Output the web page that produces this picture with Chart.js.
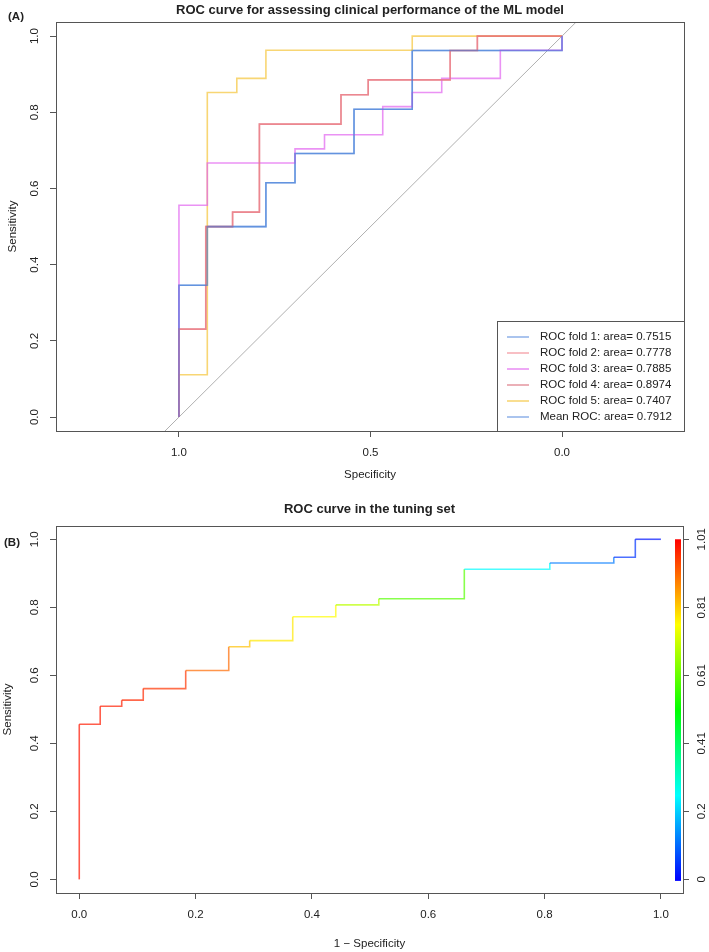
<!DOCTYPE html>
<html>
<head>
<meta charset="utf-8">
<script src="https://cdn.jsdelivr.net/npm/chart.js@4.4.1/dist/chart.umd.min.js"></script>
<style>
  html, body { margin: 0; padding: 0; background: #fff; }
  #wrapA { position: absolute; left: 0; top: 0; width: 709px; height: 484px; }
  #wrapB { position: absolute; left: 0; top: 484px; width: 709px; height: 468px; }
</style>
</head>
<body>
<div id="wrapA"><canvas id="rocA" width="709" height="484"></canvas></div>
<div id="wrapB"><canvas id="rocB" width="709" height="468"></canvas></div>
<script>
// ---- panel A: cross-validation folds (specificity, sensitivity) ----
const fold1Spec = [1, 1, 0.926, 0.773, 0.697, 0.543, 0.391, 0];
const fold1Sens = [0, 0.346, 0.5, 0.615, 0.692, 0.808, 0.962, 1];
const fold2Spec = [1, 1, 0.93, 0.86, 0.79, 0.577, 0.506, 0.292, 0.221, 0];
const fold2Sens = [0, 0.231, 0.5, 0.538, 0.769, 0.846, 0.885, 0.962, 1, 1];
const fold3Spec = [1, 1, 0.926, 0.697, 0.62, 0.468, 0.391, 0.314, 0.161, 0];
const fold3Sens = [0, 0.556, 0.667, 0.704, 0.741, 0.815, 0.852, 0.889, 0.963, 1];
const fold4Spec = [1, 1, 0.93, 0.86, 0.79, 0.577, 0.506, 0.292, 0.221, 0];
const fold4Sens = [0, 0.231, 0.5, 0.538, 0.769, 0.846, 0.885, 0.962, 1, 1];
const fold5Spec = [1, 1, 0.926, 0.849, 0.773, 0.391, 0];
const fold5Sens = [0, 0.111, 0.852, 0.889, 0.963, 1, 1];
const meanSpec = [1, 1, 0.926, 0.773, 0.697, 0.543, 0.391, 0];
const meanSens = [0, 0.346, 0.5, 0.615, 0.692, 0.808, 0.962, 1];
const foldLabels = [
  "ROC fold 1: area= 0.7515", "ROC fold 2: area= 0.7778", "ROC fold 3: area= 0.7885",
  "ROC fold 4: area= 0.8974", "ROC fold 5: area= 0.7407", "Mean ROC: area= 0.7912"
];
const specTicks = [1.0, 0.5, 0.0];
const sensTicks = [0, 0.2, 0.4, 0.6, 0.8, 1.0];

// ---- panel B: tuning set (1 - specificity, sensitivity, cutoff) ----
const tuneFpr = [0, 0, 0.036, 0.073, 0.11, 0.183, 0.257, 0.293, 0.367, 0.441, 0.515, 0.662, 0.809, 0.919, 0.956, 1];
const tuneTpr = [0, 0.456, 0.509, 0.527, 0.561, 0.614, 0.684, 0.702, 0.772, 0.807, 0.825, 0.912, 0.930, 0.947, 1, 1];
const tuneCut = [1.01, 0.99, 0.985, 0.98, 0.97, 0.96, 0.905, 0.82, 0.78, 0.76, 0.69, 0.59, 0.25, 0.12, 0.05, 0.02];
const fprTicks = [0, 0.2, 0.4, 0.6, 0.8, 1.0];
const cutTickLabels = ["0", "0.2", "0.41", "0.61", "0.81", "1.01"];
const cutMax = 1.01;

Chart.defaults.font.family = "'Liberation Sans', Arial, Helvetica, sans-serif";
Chart.defaults.animation = false;

const pts = (xs, ys) => xs.map((x, i) => ({ x: x, y: ys[i] }));
const cutColor = (t, a) => "hsla(" + (240 * (1 - t / cutMax)).toFixed(1) + ",100%,50%," + a + ")";
const setTicks = vals => scale => { scale.ticks = vals.map(v => ({ value: v })); };

function vtext(ctx, s, x, y) {
  ctx.save();
  ctx.translate(x, y);
  ctx.rotate(-Math.PI / 2);
  ctx.fillText(s, 0, 0);
  ctx.restore();
}

// horizontal run first, then the vertical jump (chart.js "before")
function step(label, xs, ys, color) {
  return {
    label: label, data: pts(xs, ys), showLine: true, stepped: "before",
    borderColor: color, borderWidth: 1.6, pointRadius: 0, fill: false
  };
}

// ---------------- panel A ----------------
const frameA = {
  id: "frameA",
  afterDraw(chart) {
    const { ctx, chartArea: a, scales } = chart;
    const xs = scales.x, ys = scales.y;
    ctx.save();
    ctx.strokeStyle = "#555"; ctx.lineWidth = 1;
    ctx.strokeRect(a.left + 0.5, a.top + 0.5, a.right - a.left, a.bottom - a.top);

    ctx.fillStyle = "#222";
    ctx.textAlign = "center"; ctx.textBaseline = "middle";
    ctx.font = "11.5px 'Liberation Sans', Arial, sans-serif";
    sensTicks.forEach(v => vtext(ctx, v.toFixed(1), 35, ys.getPixelForValue(v)));
    specTicks.forEach(v => ctx.fillText(v.toFixed(1), xs.getPixelForValue(v), 453));
    ctx.fillText("Specificity", (a.left + a.right) / 2, 475);
    vtext(ctx, "Sensitivity", 13, (a.top + a.bottom) / 2);

    ctx.font = "bold 13px 'Liberation Sans', Arial, sans-serif";
    ctx.fillText("ROC curve for assessing clinical performance of the ML model", (a.left + a.right) / 2, 10);
    ctx.textAlign = "left";
    ctx.font = "bold 11.5px 'Liberation Sans', Arial, sans-serif";
    ctx.fillText("(A)", 8, 17);

    // legend, bottom right inside the plot
    const lx = 497, ly = 321, lw = a.right - lx, lh = a.bottom - ly;
    ctx.fillStyle = "#fff";
    ctx.fillRect(lx, ly, lw, lh);
    ctx.strokeStyle = "#555";
    ctx.strokeRect(lx + 0.5, ly + 0.5, lw, lh);
    ctx.font = "11.5px 'Liberation Sans', Arial, sans-serif";
    chart.data.datasets.forEach((d, i) => {
      if (!d.label) return;
      const y = 337 + i * 16;
      ctx.strokeStyle = d.borderColor; ctx.lineWidth = 1.6;
      ctx.beginPath(); ctx.moveTo(507, y); ctx.lineTo(529, y); ctx.stroke();
      ctx.fillStyle = "#222";
      ctx.fillText(d.label, 540, y);
    });
    ctx.restore();
  }
};

new Chart(document.getElementById("rocA"), {
  type: "scatter",
  data: {
    datasets: [
      step(foldLabels[0], fold1Spec, fold1Sens, "rgba(60,120,215,0.55)"),
      step(foldLabels[1], fold2Spec, fold2Sens, "rgba(240,120,130,0.6)"),
      step(foldLabels[2], fold3Spec, fold3Sens, "rgba(225,100,240,0.7)"),
      step(foldLabels[3], fold4Spec, fold4Sens, "rgba(205,60,75,0.5)"),
      step(foldLabels[4], fold5Spec, fold5Sens, "rgba(245,200,70,0.75)"),
      step(foldLabels[5], meanSpec, meanSens, "rgba(60,120,215,0.55)"),
      { label: "", data: [{ x: 1.5, y: -0.5 }, { x: -0.5, y: 1.5 }], showLine: true,
        borderColor: "#b0b0b0", borderWidth: 1, pointRadius: 0 }
    ]
  },
  options: {
    responsive: false,
    layout: { padding: { top: 22, right: 25, left: 0, bottom: 0 } },
    plugins: { legend: { display: false }, tooltip: { enabled: false } },
    scales: {
      x: {
        type: "linear", reverse: true, min: -0.3185, max: 1.321,
        afterBuildTicks: setTicks(specTicks),
        afterFit: s => { s.height = 53; },
        ticks: { display: false, autoSkip: false },
        grid: { drawOnChartArea: false, drawTicks: true, tickLength: 6, color: "#555" },
        border: { display: false }
      },
      y: {
        type: "linear", min: -0.0365, max: 1.037,
        afterBuildTicks: setTicks(sensTicks),
        afterFit: s => { s.width = 56; },
        ticks: { display: false, autoSkip: false },
        grid: { drawOnChartArea: false, drawTicks: true, tickLength: 6, color: "#555" },
        border: { display: false }
      }
    }
  },
  plugins: [frameA]
});

// ---------------- panel B ----------------
const frameB = {
  id: "frameB",
  afterDraw(chart) {
    const { ctx, chartArea: a, scales } = chart;
    const xs = scales.x, ys = scales.y, y2 = scales.y2;
    ctx.save();
    ctx.strokeStyle = "#555"; ctx.lineWidth = 1;
    ctx.strokeRect(a.left + 0.5, a.top + 0.5, a.right - a.left, a.bottom - a.top);

    // colour key for the cutoffs
    const top = ys.getPixelForValue(1), bot = ys.getPixelForValue(0) + 1.5;
    const g = ctx.createLinearGradient(0, bot, 0, top);
    for (let k = 0; k <= 12; k++) g.addColorStop(k / 12, "hsl(" + (240 - 20 * k) + ",100%,50%)");
    ctx.fillStyle = g;
    ctx.fillRect(a.right - 8, top, 6, bot - top);

    ctx.fillStyle = "#222";
    ctx.textAlign = "center"; ctx.textBaseline = "middle";
    ctx.font = "11.5px 'Liberation Sans', Arial, sans-serif";
    sensTicks.forEach(v => vtext(ctx, v.toFixed(1), 35, ys.getPixelForValue(v)));
    fprTicks.forEach(v => ctx.fillText(v.toFixed(1), xs.getPixelForValue(v), 431));
    y2.ticks.forEach((t, i) => vtext(ctx, cutTickLabels[i], 702, y2.getPixelForValue(t.value)));
    ctx.fillText("1 \u2212 Specificity", (a.left + a.right) / 2, 460);
    vtext(ctx, "Sensitivity", 8, (a.top + a.bottom) / 2);

    ctx.font = "bold 13px 'Liberation Sans', Arial, sans-serif";
    ctx.fillText("ROC curve in the tuning set", (a.left + a.right) / 2, 25);
    ctx.textAlign = "left";
    ctx.font = "bold 11.5px 'Liberation Sans', Arial, sans-serif";
    ctx.fillText("(B)", 4, 59);
    ctx.restore();
  }
};

new Chart(document.getElementById("rocB"), {
  type: "scatter",
  data: {
    datasets: [{
      label: "tuning", data: pts(tuneFpr, tuneTpr), showLine: true, stepped: "before",
      borderWidth: 1.6, pointRadius: 0, fill: false,
      borderColor: cutColor(tuneCut[1], 0.7),
      segment: { borderColor: c => cutColor(tuneCut[c.p1DataIndex], 0.7) }
    }]
  },
  options: {
    responsive: false,
    layout: { padding: { top: 42, right: 0, left: 0, bottom: 0 } },
    plugins: { legend: { display: false }, tooltip: { enabled: false } },
    scales: {
      x: {
        type: "linear", min: -0.04, max: 1.038,
        afterBuildTicks: setTicks(fprTicks),
        afterFit: s => { s.height = 59; },
        ticks: { display: false, autoSkip: false },
        grid: { drawOnChartArea: false, drawTicks: true, tickLength: 6, color: "#555" },
        border: { display: false }
      },
      y: {
        type: "linear", min: -0.04, max: 1.039,
        afterBuildTicks: setTicks(sensTicks),
        afterFit: s => { s.width = 56; },
        ticks: { display: false, autoSkip: false },
        grid: { drawOnChartArea: false, drawTicks: true, tickLength: 6, color: "#555" },
        border: { display: false }
      },
      y2: {
        type: "linear", position: "right", min: -0.04, max: 1.039,
        afterBuildTicks: setTicks(sensTicks),
        afterFit: s => { s.width = 26; },
        ticks: { display: false, autoSkip: false },
        grid: { drawOnChartArea: false, drawTicks: true, tickLength: 6, color: "#555" },
        border: { display: false }
      }
    }
  },
  plugins: [frameB]
});
</script>
</body>
</html>
